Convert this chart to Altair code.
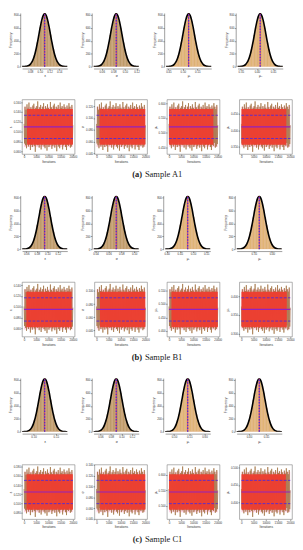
import altair as alt
import pandas as pd

caption_tags = ["(a)", "(b)", "(c)"]
caption_names = ["Sample A1", "Sample B1", "Sample C1"]
param_names = ["ε", "σ", "μ₁", "μ₂"]

# posterior centre / spread of each panel [block][column]
means = [[0.110, 0.085, 0.520, 0.410],
         [0.095, 0.072, 0.480, 0.365],
         [0.125, 0.090, 0.545, 0.430]]
sds = [[0.012, 0.010, 0.020, 0.018],
       [0.011, 0.009, 0.022, 0.016],
       [0.013, 0.011, 0.019, 0.017]]

# histogram bins (standardised units) and counts
bin_z = [-4.0, -3.75, -3.5, -3.25, -3.0, -2.75, -2.5, -2.25, -2.0, -1.75, -1.5,
         -1.25, -1.0, -0.75, -0.5, -0.25, 0.0, 0.25, 0.5, 0.75, 1.0, 1.25, 1.5,
         1.75, 2.0, 2.25, 2.5, 2.75, 3.0, 3.25, 3.5, 3.75, 4.0]
counts = [0, 1, 2, 5, 9, 19, 36, 65, 110, 178, 267, 374, 490, 605, 700, 778, 820,
          775, 705, 600, 495, 370, 270, 175, 112, 66, 35, 18, 10, 4, 2, 1, 0]

# fitted density curve
curve_z = [-4.5, -4.25, -4.0, -3.75, -3.5, -3.25, -3.0, -2.75, -2.5, -2.25, -2.0,
           -1.75, -1.5, -1.25, -1.0, -0.75, -0.5, -0.25, 0.0, 0.25, 0.5, 0.75,
           1.0, 1.25, 1.5, 1.75, 2.0, 2.25, 2.5, 2.75, 3.0, 3.25, 3.5, 3.75, 4.0,
           4.25, 4.5]
curve_f = [0.0, 0.1, 0.3, 0.7, 1.8, 4.2, 9.1, 18.6, 36, 65, 111, 177, 266, 375,
           497, 620, 724, 795, 820, 795, 724, 620, 497, 375, 266, 177, 111, 65,
           36, 18.6, 9.1, 4.2, 1.8, 0.7, 0.3, 0.1, 0.0]
freq_ticks = [0, 200, 400, 600, 800]

# MCMC trace (standardised units)
trace_z = [0.5, -2.8, 3.4, -3.1, 2.9, -3.6, 3.8, -2.7, 3.1, -3.3, 4.1, -2.9, 3.0,
           -3.9, 3.3, -3.0, 2.8, -3.4, 3.6, -2.6, 3.9, -3.2, 2.7, -4.2, 3.2, -2.9,
           3.5, -3.1, 4.3, -3.0, 2.9, -3.5, 3.3, -2.8, 3.7, -3.8, 3.0, -3.1, 3.4,
           -2.7, 4.0, -3.3, 2.8, -3.6, 3.5, -3.0, 3.1, -4.0, 3.8, -2.9, 3.2, -3.4,
           2.9, -3.1, 4.2, -2.8, 3.3, -3.7, 3.0, -3.2, 3.6, -2.9, 3.9, -3.5, 2.8,
           -3.0, 3.4, -4.1, 3.1, -2.7, 3.7, -3.3, 2.9, -3.6, 4.1, -3.0, 3.2, -2.9,
           3.5, -3.8, 3.0, -3.1, 3.8, -2.8, 3.3, -3.4, 2.9, -3.9, 3.6, -3.0, 3.1,
           -3.2, 4.0, -2.7, 3.4, -3.5, 3.0, -3.3, 3.7, -2.9, 0.3]
n_iter = 20000
iter_ticks = [0, 5000, 10000, 15000, 20000]
red_start = [[1200, 1200, 0, 0], [900, 1400, 1000, 0], [1000, 1300, 0, 0]]
red_end = [[20000, 20000, 18200, 18400], [19500, 20000, 20000, 18600],
           [20000, 20000, 18500, 18200]]

bar_colors = ["#B9A06C", "#B9A06C", "#E2BE7C", "#E2BE7C"]


def hist_panel(b, c):
    m, s = means[b][c], sds[b][c]
    name = param_names[c]
    bars = pd.DataFrame({"lo": [m + (z - 0.125) * s for z in bin_z],
                         "hi": [m + (z + 0.125) * s for z in bin_z],
                         "n": counts, "base": [0] * len(counts)})
    curve = pd.DataFrame({"x": [m + z * s for z in curve_z], "f": curve_f})
    mline = pd.DataFrame({"x": [m], "base": [0], "top": [max(counts)]})
    xs = alt.Scale(domain=[m - 3.9 * s, m + 3.9 * s], nice=False, zero=False)
    ys = alt.Scale(domain=[0, 830], nice=False)
    xax = alt.Axis(title=name, tickCount=3, format=".2f", offset=2)
    yax = alt.Axis(title="Frequency", values=freq_ticks, offset=2)
    l1 = alt.Chart(bars).mark_rect(color=bar_colors[c], stroke="#D98A66",
                                   strokeWidth=0.25, clip=True).encode(
        x=alt.X("lo:Q", scale=xs, axis=xax), x2="hi:Q",
        y=alt.Y("n:Q", scale=ys, axis=yax), y2="base:Q")
    l2 = alt.Chart(curve).mark_line(color="black", strokeWidth=1.7,
                                    interpolate="monotone", clip=True).encode(
        x=alt.X("x:Q", scale=xs, axis=xax), y=alt.Y("f:Q", scale=ys, axis=yax))
    l3 = alt.Chart(mline).mark_rule(color="#E0306A", strokeWidth=1.0).encode(
        x=alt.X("x:Q", scale=xs, axis=xax),
        y=alt.Y("base:Q", scale=ys, axis=yax), y2="top:Q")
    l4 = alt.Chart(mline).mark_rule(color="#3A2FD8", strokeWidth=1.2,
                                    strokeDash=[1.5, 1.5]).encode(
        x=alt.X("x:Q", scale=xs, axis=xax),
        y=alt.Y("base:Q", scale=ys, axis=yax), y2="top:Q")
    return alt.layer(l1, l2, l3, l4).properties(width=48, height=57)


def trace_panel(b, c):
    m, s = means[b][c], sds[b][c]
    name = param_names[c]
    step = n_iter / (len(trace_z) - 1)
    tr = pd.DataFrame({"it": [i * step for i in range(len(trace_z))],
                       "v": [m + z * s for z in trace_z]})
    pink = pd.DataFrame({"x0": [0], "x1": [n_iter],
                         "y0": [m - 3.4 * s], "y1": [m + 3.4 * s]})
    red = pd.DataFrame({"x0": [red_start[b][c]], "x1": [red_end[b][c]],
                        "y0": [m - 3.0 * s], "y1": [m + 3.0 * s]})
    mean_df = pd.DataFrame({"x0": [0], "x1": [n_iter], "v": [m]})
    ci_df = pd.DataFrame({"x0": [0, 0], "x1": [n_iter, n_iter],
                          "v": [m - 1.96 * s, m + 1.96 * s]})
    xs = alt.Scale(domain=[-800, 20800], nice=False)
    ys = alt.Scale(domain=[m - 4.6 * s, m + 4.6 * s], nice=False, zero=False)
    xax = alt.Axis(title="Iterations", values=iter_ticks, format="d", domain=False)
    yax = alt.Axis(title=name, tickCount=4, format=".3f", domain=False)
    p = alt.Chart(pink).mark_rect(color="#FFD3E6").encode(
        x=alt.X("x0:Q", scale=xs, axis=xax), x2="x1:Q",
        y=alt.Y("y0:Q", scale=ys, axis=yax), y2="y1:Q")
    ln = alt.Chart(tr).mark_line(color="#A0703E", strokeWidth=0.7, clip=True).encode(
        x=alt.X("it:Q", scale=xs, axis=xax), y=alt.Y("v:Q", scale=ys, axis=yax))
    r = alt.Chart(red).mark_rect(color="#F23A2E", opacity=0.9).encode(
        x=alt.X("x0:Q", scale=xs, axis=xax), x2="x1:Q",
        y=alt.Y("y0:Q", scale=ys, axis=yax), y2="y1:Q")
    mm = alt.Chart(mean_df).mark_rule(color="#9420C0", strokeWidth=1.2).encode(
        x=alt.X("x0:Q", scale=xs, axis=xax), x2="x1:Q",
        y=alt.Y("v:Q", scale=ys, axis=yax))
    ci = alt.Chart(ci_df).mark_rule(color="#5A2CD0", strokeWidth=1.0,
                                    strokeDash=[3, 1.5]).encode(
        x=alt.X("x0:Q", scale=xs, axis=xax), x2="x1:Q",
        y=alt.Y("v:Q", scale=ys, axis=yax))
    return alt.layer(p, ln, r, mm, ci).properties(
        width=56, height=58,
        view=alt.ViewBackground(stroke="#777", strokeWidth=0.6))


def caption_panel(b):
    df = pd.DataFrame({"tag": [caption_tags[b]], "name": [caption_names[b]]})
    base = alt.Chart(df)
    t1 = base.mark_text(font="Liberation Serif", fontSize=9, fontWeight="bold",
                        align="right", baseline="middle", dx=-17,
                        color="#222").encode(text="tag:N")
    t2 = base.mark_text(font="Liberation Serif", fontSize=9, align="left",
                        baseline="middle", dx=-14, color="#222").encode(text="name:N")
    return alt.layer(t1, t2).properties(width=289, height=11)


blocks = []
for b in range(3):
    hrow = alt.hconcat(*[hist_panel(b, c) for c in range(4)], spacing=13)
    trow = alt.hconcat(*[trace_panel(b, c) for c in range(4)], spacing=3)
    top = alt.vconcat(hrow, trow, spacing=22)
    blocks.append(alt.vconcat(top, caption_panel(b), spacing=6))

chart = alt.vconcat(*blocks, spacing=17).properties(
    padding={"left": 0, "top": -12, "right": 0, "bottom": 0}
).configure_view(stroke=None).configure_axis(
    grid=False, labelFontSize=3, titleFontSize=3.5, tickSize=1.5,
    labelPadding=0.5, titlePadding=1, domainWidth=0.5, tickWidth=0.5,
    domainColor="#333", tickColor="#333", labelColor="#333", titleColor="#333",
    labelFont="Liberation Sans", titleFont="Liberation Sans",
    titleFontWeight="normal"
)

chart.save("out.html", embed_options={"renderer": "svg", "actions": False})
